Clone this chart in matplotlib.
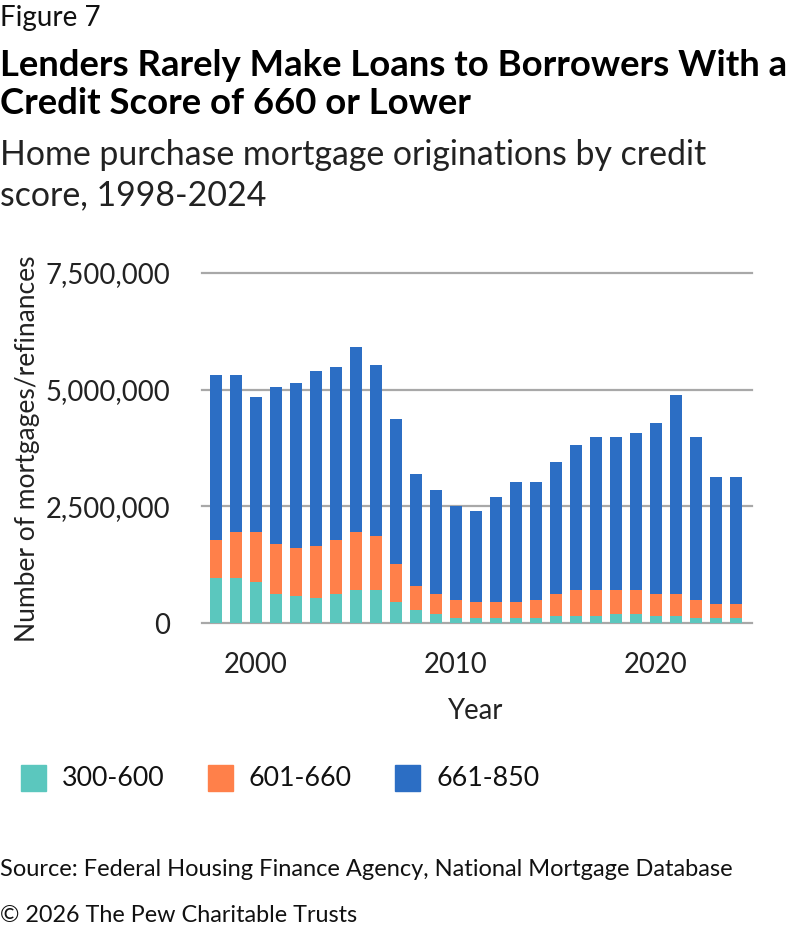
import matplotlib
matplotlib.use("Agg")
import matplotlib.pyplot as plt
import numpy as np
from matplotlib.ticker import FuncFormatter
from matplotlib.patches import Rectangle

plt.rcParams['font.family'] = ['Lato', 'DejaVu Sans']

years = list(range(1998, 2025))
# cumulative tops (millions)
top_300_600 = [0.96, 0.96, 0.88, 0.62, 0.58, 0.53, 0.62, 0.70, 0.70, 0.45, 0.27, 0.19, 0.10, 0.10,
               0.10, 0.10, 0.10, 0.14, 0.14, 0.14, 0.19, 0.19, 0.14, 0.14, 0.10, 0.10, 0.10]
top_601_660 = [1.78, 1.95, 1.95, 1.70, 1.61, 1.65, 1.78, 1.95, 1.87, 1.26, 0.79, 0.62, 0.49, 0.45,
               0.45, 0.45, 0.49, 0.62, 0.70, 0.70, 0.70, 0.70, 0.62, 0.62, 0.49, 0.40, 0.40]
top_total = [5.32, 5.32, 4.84, 5.06, 5.14, 5.40, 5.49, 5.92, 5.53, 4.37, 3.20, 2.86, 2.51, 2.39,
             2.69, 3.03, 3.03, 3.46, 3.81, 3.98, 3.98, 4.07, 4.28, 4.89, 3.98, 3.12, 3.12]
series_names = ['300-600', '601-660', '661-850']
colors = ['#5BC7BE', '#FF804A', '#2C6EC4']

low = np.array(top_300_600) * 1e6
mid = np.array(top_601_660) * 1e6 - low
high = np.array(top_total) * 1e6 - np.array(top_601_660) * 1e6

W, H = 792, 934
fig = plt.figure(figsize=(W / 100, H / 100), dpi=100)

ax = fig.add_axes([202 / W, (H - 623) / H, 550 / W, 350 / H])
ax.bar(years, low, width=0.6, color=colors[0], zorder=3)
ax.bar(years, mid, width=0.6, bottom=low, color=colors[1], zorder=3)
ax.bar(years, high, width=0.6, bottom=low + mid, color=colors[2], zorder=3)

ax.set_xlim(1997.3, 2024.8)
ax.set_ylim(0, 7.5e6)
ax.set_yticks([0, 2.5e6, 5e6, 7.5e6])
ax.yaxis.set_major_formatter(FuncFormatter(lambda v, p: f'{int(v):,}'))
ax.set_xticks([2000, 2010, 2020])
ax.grid(axis='y', color='#A8A8A8', linewidth=1.6, zorder=0)
for l in ax.get_ygridlines():
    l.set_clip_on(False)
for s in ax.spines.values():
    s.set_visible(False)
ax.tick_params(axis='y', length=0, pad=23, labelsize=19.8, labelcolor='#222222')
ax.tick_params(axis='x', length=0, pad=21, labelsize=19.8, labelcolor='#222222')

fig.text(476 / W, 1 - 711 / H, 'Year', ha='center', va='center', fontsize=19.8, color='#222222')
fig.text(28 / W, 1 - 449 / H, 'Number of mortgages/refinances', rotation=90,
         ha='center', va='center', fontsize=19, color='#222222')

# titles
fig.text(0, 1 - 18 / H, 'Figure 7', ha='left', va='center', fontsize=20, color='#111111')
fig.text(0, 1 - 66 / H, 'Lenders Rarely Make Loans to Borrowers With a', ha='left', va='center',
         fontsize=26.3, fontweight='bold', color='#000000')
fig.text(0, 1 - 104 / H, 'Credit Score of 660 or Lower', ha='left', va='center',
         fontsize=26.3, fontweight='bold', color='#000000')
fig.text(0, 1 - 155 / H, 'Home purchase mortgage originations by credit', ha='left', va='center',
         fontsize=24.4, color='#222222')
fig.text(0, 1 - 195 / H, 'score, 1998-2024', ha='left', va='center', fontsize=24.4, color='#222222')

# legend
leg_x = [21, 208, 395]
for name, c, x in zip(series_names, colors, leg_x):
    fig.patches.append(Rectangle((x / W, 1 - 791 / H), 25 / W, 26 / H, transform=fig.transFigure,
                                 color=c, figure=fig))
    fig.text((x + 41) / W, 1 - 778 / H, name, ha='left', va='center', fontsize=19.3, color='#111111')

fig.text(0, 1 - 869 / H, 'Source: Federal Housing Finance Agency, National Mortgage Database',
         ha='left', va='center', fontsize=17, color='#111111')
fig.text(0, 1 - 916 / H, '\u00a9 2026 The Pew Charitable Trusts', ha='left', va='center',
         fontsize=16.8, color='#111111')

fig.savefig('out.png', dpi=100)
